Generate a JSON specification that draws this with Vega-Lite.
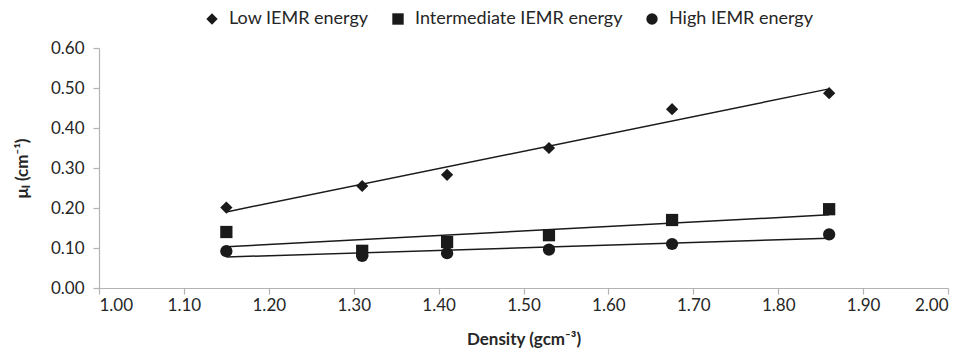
{
  "$schema": "https://vega.github.io/schema/vega-lite/v6.json",
  "width": 849,
  "height": 240,
  "autosize": {"type": "none"},
  "padding": {"left": 99, "top": 48, "right": 17, "bottom": 65},
  "background": "white",
  "config": {
    "font": "Lato",
    "view": {"stroke": null},
    "axis": {
      "domainColor": "#b3b3b3",
      "tickColor": "#b3b3b3",
      "domainWidth": 1.2,
      "tickWidth": 1.2,
      "grid": false,
      "labelFont": "Lato",
      "labelFontSize": 17,
      "labelColor": "#262626",
      "titleFont": "Lato",
      "titleFontSize": 17,
      "titleFontWeight": "bold",
      "titleColor": "#262626",
      "tickSize": 6
    }
  },
  "data": {
    "values": [
      {"density": 1.15, "mu": 0.201, "series": "Low IEMR energy"},
      {"density": 1.31, "mu": 0.255, "series": "Low IEMR energy"},
      {"density": 1.41, "mu": 0.283, "series": "Low IEMR energy"},
      {"density": 1.53, "mu": 0.350, "series": "Low IEMR energy"},
      {"density": 1.675, "mu": 0.447, "series": "Low IEMR energy"},
      {"density": 1.86, "mu": 0.487, "series": "Low IEMR energy"},
      {"density": 1.15, "mu": 0.140, "series": "Intermediate IEMR energy"},
      {"density": 1.31, "mu": 0.093, "series": "Intermediate IEMR energy"},
      {"density": 1.41, "mu": 0.115, "series": "Intermediate IEMR energy"},
      {"density": 1.53, "mu": 0.132, "series": "Intermediate IEMR energy"},
      {"density": 1.675, "mu": 0.170, "series": "Intermediate IEMR energy"},
      {"density": 1.86, "mu": 0.197, "series": "Intermediate IEMR energy"},
      {"density": 1.15, "mu": 0.092, "series": "High IEMR energy"},
      {"density": 1.31, "mu": 0.080, "series": "High IEMR energy"},
      {"density": 1.41, "mu": 0.087, "series": "High IEMR energy"},
      {"density": 1.53, "mu": 0.096, "series": "High IEMR energy"},
      {"density": 1.675, "mu": 0.110, "series": "High IEMR energy"},
      {"density": 1.86, "mu": 0.134, "series": "High IEMR energy"}
    ]
  },
  "encoding": {
    "x": {
      "field": "density", "type": "quantitative",
      "scale": {"domain": [1.0, 2.0], "nice": false, "zero": false},
      "axis": {"values": [1.0, 1.1, 1.2, 1.3, 1.4, 1.5, 1.6, 1.7, 1.8, 1.9, 2.0], "format": ".2f", "title": "Density (gcm⁻³)", "titleX": 424.5, "titleY": 51, "titleBaseline": "middle", "titleAlign": "center", "labelPadding": 3, "labelOverlap": false, "labelBound": false}
    },
    "y": {
      "field": "mu", "type": "quantitative",
      "scale": {"domain": [0, 0.6], "nice": false},
      "axis": {"values": [0, 0.1, 0.2, 0.3, 0.4, 0.5, 0.6], "format": ".2f", "title": "μₗ (cm⁻¹)", "titleX": -77, "titleY": 120, "titleAngle": -90, "titleAlign": "center", "titleBaseline": "middle", "labelPadding": 9}
    }
  },
  "layer": [
    {
      "mark": {"type": "line", "color": "#1a1a1a", "strokeWidth": 1.5},
      "transform": [{"regression": "mu", "on": "density", "groupby": ["series"], "method": "linear"}],
      "encoding": {"detail": {"field": "series"}}
    },
    {
      "mark": {"type": "point", "filled": true, "color": "#1a1a1a", "opacity": 1, "size": 150},
      "encoding": {
        "shape": {
          "field": "series", "type": "nominal",
          "scale": {"domain": ["Low IEMR energy", "Intermediate IEMR energy", "High IEMR energy"], "range": ["diamond", "square", "circle"]},
          "legend": {
            "title": null, "orient": "none", "direction": "horizontal",
            "legendX": 104, "legendY": -38,
            "labelFont": "Lato", "labelFontSize": 18, "labelColor": "#262626", "labelLimit": 400,
            "symbolFillColor": "#1a1a1a", "symbolStrokeColor": "#1a1a1a", "symbolSize": 130,
            "columnPadding": 20, "labelOffset": 8
          }
        }
      }
    }
  ]
}
